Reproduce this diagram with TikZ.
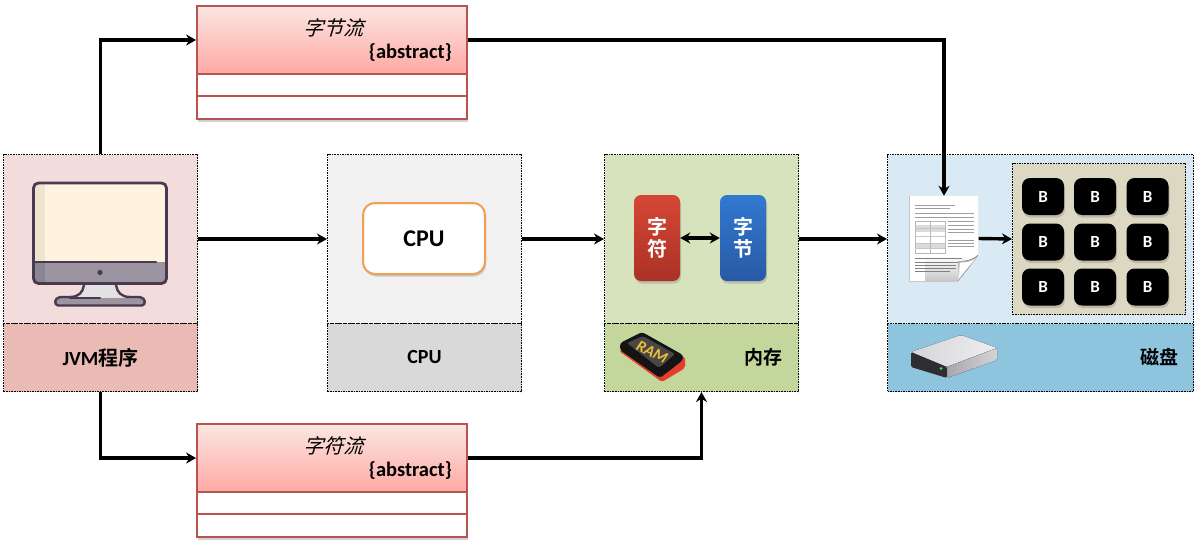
\documentclass[tikz,border=0pt]{standalone}
\usepackage{fontspec}
\setmainfont{Carlito}
\newfontfamily\cjk{Noto Sans CJK SC}[BoldFont={Noto Sans CJK SC Bold}]
\newfontfamily\cjkslant{Noto Sans CJK SC}[RawFeature={slant=0.3}]
\usetikzlibrary{arrows.meta,shadows,calc}
\definecolor{umlb}{HTML}{B85450}
\definecolor{umlt}{HTML}{FBE6E2}
\definecolor{umld}{HTML}{FFA9A3}
\definecolor{mono}{HTML}{4A3A50}
\definecolor{jvmu}{HTML}{F3DCDC}
\definecolor{jvmd}{HTML}{EABAB5}
\definecolor{cpuu}{HTML}{F1F1F1}
\definecolor{cpud}{HTML}{D9D9D9}
\definecolor{memu}{HTML}{D7E3BC}
\definecolor{memd}{HTML}{C3D69B}
\definecolor{disku}{HTML}{DAEAF4}
\definecolor{diskd}{HTML}{8FC4DE}
\definecolor{bpan}{HTML}{DDD8C2}
\tikzset{
  softshadow/.style={drop shadow={opacity=.35,shadow xshift=1pt,shadow yshift=-2.5pt}},
  panel/.style={draw=black,line width=1pt,dash pattern=on 1.6pt off 1pt,inner sep=0pt,minimum width=#1},
  upperh/.style={minimum height=169pt},
  lowerh/.style={minimum height=68pt,font=\bfseries\fontsize{20}{22}\selectfont},
  umlhead/.style={draw=umlb,line width=1.8pt,top color=umlt,bottom color=umld,minimum width=270pt,minimum height=68pt,inner sep=0pt},
  umlrow/.style={draw=umlb,line width=1.8pt,fill=white,minimum width=270pt,inner sep=0pt},
  flow/.style={line width=3.4pt,-{Stealth[length=10pt,width=11pt]}},
  flowtwo/.style={line width=3.4pt,{Stealth[length=10pt,width=11pt]}-{Stealth[length=10pt,width=11pt]}},
  pill/.style={rounded corners=7pt,minimum width=46pt,minimum height=86pt,inner sep=0pt,text=white,align=center,font=\cjk\bfseries\fontsize{20}{22}\selectfont,softshadow},
  bbox/.style={fill=black,rounded corners=8pt,minimum width=42pt,minimum height=37pt,inner sep=0pt,text=white,font=\bfseries\fontsize{17}{18}\selectfont,softshadow},
  docline/.style={draw=black!38,line width=0.6pt},
  labelc/.style={font=\cjk\bfseries\fontsize{19}{21}\selectfont},
  abstr/.style={font=\bfseries\fontsize{20.5}{22}\selectfont,anchor=east,inner sep=0pt},
  umlname/.style={font=\cjkslant\fontsize{20}{22}\selectfont,inner sep=0pt},
}
\begin{document}
\begin{tikzpicture}[x=1pt,y=-1pt]
\useasboundingbox[fill=white] (0,0) rectangle (1201,541);

% panels
\node[panel=194pt,upperh,fill=jvmu] (jvm) at (100.5,239) {};
\node[panel=194pt,lowerh,fill=jvmd] (jvml) at (100.5,357.5) {JVM{\cjk 程序}};

\node[panel=194pt,upperh,fill=cpuu] (cpu) at (424.5,239) {};
\node[panel=194pt,lowerh,fill=cpud] (cpul) at (424.5,357.5) {CPU};

\node[panel=194pt,upperh,fill=memu] (mem) at (701.5,239) {};
\node[panel=194pt,lowerh,fill=memd] (meml) at (701.5,357.5) {};
\node[labelc] (memt) at (763,357.5) {内存};

\node[panel=306pt,upperh,fill=disku] (disk) at (1040.5,239) {};
\node[panel=306pt,lowerh,fill=diskd] (diskl) at (1040.5,357.5) {};
\node[labelc] (diskt) at (1159,357.5) {磁盘};

% monitor
\fill[fill={rgb,255:red,255;green,243;blue,223}] (34,184) rectangle (166,262);
\fill[fill={rgb,255:red,238;green,228;blue,207}] (34,184) rectangle (45,262);
\fill[fill={rgb,255:red,154;green,149;blue,160}] (34,262) rectangle (166,283);
\fill[fill={rgb,255:red,138;green,133;blue,146}] (34,262) rectangle (45,283);
\fill[fill={rgb,255:red,226;green,226;blue,228}] (84,284) .. controls (82,292) and (78,296) .. (72,297) -- (128,297) .. controls (122,296) and (118,292) .. (116,284) -- cycle;
\fill[fill={rgb,255:red,154;green,149;blue,160}] (58,298) -- (142,298) .. controls (146,300) and (146,306) .. (142,305) -- (58,305) .. controls (54,306) and (54,300) .. (58,298) -- cycle;
\draw[mono,line width=2.8pt,rounded corners=5pt] (33.5,183) rectangle (166.5,283.5);
\draw[mono,line width=2.6pt,line cap=round] (34,262) -- (156,262);
\fill[mono] (100,272.5) circle (2.6);
\draw[mono,line width=2.4pt,line cap=round,line join=round] (84,285) .. controls (83,292) and (79,297) .. (70,297) -- (60,297) .. controls (54,298) and (54,305) .. (58,305.5) -- (142,305.5) .. controls (146,305) and (146,298) .. (140,297) -- (130,297) .. controls (121,297) and (117,292) .. (116,285);
\draw[mono,line width=2.4pt,line cap=round] (70,298) -- (100,298);

% CPU box
\node[draw={rgb,255:red,240;green,160;blue,85},fill=white,line width=2pt,rounded corners=12pt,minimum width=122pt,minimum height=71pt,inner sep=0pt,font=\bfseries\fontsize{24}{26}\selectfont,softshadow] (cpub) at (424,238.5) {CPU};

% memory pills
\node[pill,top color={rgb,255:red,214;green,70;blue,52},bottom color={rgb,255:red,170;green,50;blue,38}] (zif) at (657,238) {字\\符};
\node[pill,top color={rgb,255:red,50;green,120;blue,210},bottom color={rgb,255:red,40;green,90;blue,165}] (zij) at (743,238) {字\\节};

% RAM icon
\fill[fill={rgb,255:red,228;green,60;blue,45},rounded corners=2pt] (619,351) -- (662,382) -- (685,368) -- (685,357) -- (640,345) -- cycle;
\fill[fill=black!92,rounded corners=3pt] (620,343) -- (642,332) -- (683,355) -- (683,360) -- (660,378) -- (620,350) -- cycle;
\fill[fill=black!72,rounded corners=2pt] (627,343) -- (643,336) -- (675,354) -- (659,368) -- cycle;
\node[rotate=-27,text={rgb,255:red,238;green,190;blue,50},font=\bfseries\itshape\fontsize{16}{16}\selectfont,inner sep=0pt] (ramt) at (652,352) {RAM};

% disk icon
\fill[left color={rgb,255:red,214;green,214;blue,218},right color={rgb,255:red,238;green,238;blue,240},rounded corners=2pt] (911,352) -- (961,335) -- (997,348) -- (947,367) -- cycle;
\fill[left color={rgb,255:red,168;green,168;blue,172},right color={rgb,255:red,212;green,212;blue,216},rounded corners=1.5pt] (947,367) -- (997,348) -- (997,360) -- (947,378) -- cycle;
\fill[fill={rgb,255:red,46;green,46;blue,50},rounded corners=1.5pt] (911,352) -- (947,367) -- (947,378) -- (911,367) -- cycle;
\fill[fill={rgb,255:red,60;green,230;blue,90}] (941,368.5) circle (1.5);

% document
\node[minimum width=69pt,minimum height=85pt,inner sep=0pt] (doc) at (944,238.5) {};
\fill[white] (909,196) -- (978,196) -- (978,255) -- (958,281) -- (909,281) -- cycle;
\fill[top color=white,bottom color=black!22] (925,256) -- (978,256) -- (958,281) -- (925,281) -- cycle;
\draw[black!22,line width=.5pt] (909,196) -- (909,281) -- (958,281);
\foreach \yy/\xa/\xb in {205/915/955,208/915/950,213/915/974,217/915/974}{
  \draw[docline] (\xa,\yy) -- (\xb,\yy);
}
\foreach \yy/\xa/\xb in {258/915/962,262/915/958,265/915/956,268/915/956,271/915/950}{
  \draw[draw=black!50,line width=.7pt] (\xa,\yy) -- (\xb,\yy);
}
\fill[black!14] (915,225) rectangle (945,232);
\fill[black!14] (915,243) rectangle (945,248);
\draw[black!28,line width=.4pt] (915,221) rectangle (945,253) (930,221) -- (930,253);
\foreach \yy in {228,236,243,248}{\draw[black!22,line width=.4pt] (915,\yy) -- (945,\yy);}
\foreach \yy in {221,225,229,232,240,243,246}{\draw[docline] (948,\yy) -- (974,\yy);}
% page curl
\fill[top color=black!38,bottom color=black!10] (978,255) .. controls (970,262) and (963,261) .. (958,261) .. controls (958,268) and (958,275) .. (958,281) -- cycle;
\fill[white] (976.5,257.5) .. controls (970,263) and (964,262.5) .. (959.5,262.5) .. controls (959.5,268) and (959.5,273) .. (959,278) -- cycle;

% B panel
\node[panel=173pt,minimum height=151pt,fill=bpan] (bp) at (1099,239) {};
\node[bbox] (b1) at (1043,196.5) {B};
\node[bbox] (b2) at (1095,196.5) {B};
\node[bbox] (b3) at (1147.5,196.5) {B};
\node[bbox] (b4) at (1043,242) {B};
\node[bbox] (b5) at (1095,242) {B};
\node[bbox] (b6) at (1147.5,242) {B};
\node[bbox] (b7) at (1043,287) {B};
\node[bbox] (b8) at (1095,287) {B};
\node[bbox] (b9) at (1147.5,287) {B};

% UML top
\node[umlrow,minimum height=23pt,softshadow] (s1b) at (332,107.5) {};
\node[umlrow,minimum height=22pt] (s1a) at (332,85) {};
\node[umlhead] (s1) at (332,40) {};
\node[umlname] (s1t) at (333,28) {字节流};
\node[abstr] (s1k) at (452,53) {\{abstract\}};

% UML bottom
\node[umlrow,minimum height=23pt,softshadow] (s2b) at (332,525.5) {};
\node[umlrow,minimum height=22pt] (s2a) at (332,503) {};
\node[umlhead] (s2) at (332,458) {};
\node[umlname] (s2t) at (333,446) {字符流};
\node[abstr] (s2k) at (452,471) {\{abstract\}};

% connectors
\draw[flow] (jvm.north) |- (s1.west);
\draw[flow] (s1.east) -| (doc.north);
\draw[flow] (jvm.east) -- (cpu.west);
\draw[flow] (cpu.east) -- (mem.west);
\draw[flow] (mem.east) -- (disk.west);
\draw[flow] (jvml.south) |- (s2.west);
\draw[flow] (s2.east) -| (meml.south);
\draw[flowtwo] (zif.east) -- (zij.west);
\draw[flow] (doc.east) -- (bp.west);
\end{tikzpicture}
\end{document}
